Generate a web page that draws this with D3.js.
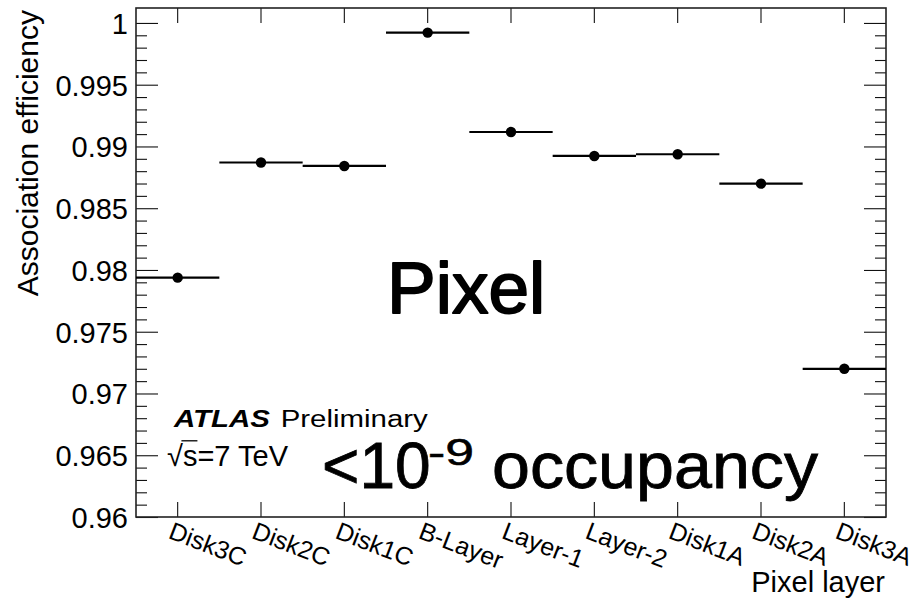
<!DOCTYPE html>
<html>
<head>
<meta charset="utf-8">
<script src="https://cdn.jsdelivr.net/npm/d3@7"></script>
<style>
  html, body { margin: 0; padding: 0; background: #fff; }
  svg { display: block; font-family: "Liberation Sans", Arial, Helvetica, sans-serif; }
</style>
</head>
<body>
<svg id="chart" width="917" height="598"></svg>
<script>
// Pixel layers along the x axis
const categories = ["Disk3C", "Disk2C", "Disk1C", "B-Layer", "Layer-1", "Layer-2", "Disk1A", "Disk2A", "Disk3A"];
// Hit-to-track association efficiency per layer
const efficiency = [0.97938, 0.98870, 0.98842, 0.99922, 0.99117, 0.98923, 0.98937, 0.98699, 0.97200];
// Major y ticks and their labels
const yMajorTicks = [0.96, 0.965, 0.97, 0.975, 0.98, 0.985, 0.99, 0.995, 1];
const yTickLabels = ["0.96", "0.965", "0.97", "0.975", "0.98", "0.985", "0.99", "0.995", "1"];

const W = 917, H = 598;
const frame = { left: 136, right: 886, top: 8, bottom: 517 };

const svg = d3.select("#chart");
svg.append("rect").attr("width", W).attr("height", H).attr("fill", "#fff");

const x = d3.scaleBand().domain(categories).range([frame.left, frame.right]).paddingInner(0).paddingOuter(0);
const y = d3.scaleLinear().domain([0.96, 1.00121]).range([frame.bottom, frame.top]);

const minorTicks = d3.range(0, 41).map(i => +(0.96 + i * 0.001).toFixed(3))
  .filter(v => !yMajorTicks.some(m => Math.abs(m - v) < 1e-9));

function styleAxis(g) {
  g.select(".domain").remove();
  g.selectAll(".tick line").attr("stroke", "#111").attr("stroke-width", 1.1);
}

// Left axis: major ticks with labels, minor ticks without
const labelOf = d => yTickLabels[yMajorTicks.findIndex(m => Math.abs(m - d) < 1e-9)];
svg.append("g").attr("transform", `translate(${frame.left},0)`)
  .call(d3.axisLeft(y).tickValues(yMajorTicks).tickFormat(labelOf).tickSizeInner(-22).tickSizeOuter(0).tickPadding(8))
  .call(styleAxis)
  .call(g => g.selectAll(".tick text").attr("fill", "#000").style("font-size", "29px")
    .style("font-family", "'Liberation Sans', Arial, sans-serif").attr("dy", "0.36em"));
svg.append("g").attr("transform", `translate(${frame.left},0)`)
  .call(d3.axisLeft(y).tickValues(minorTicks).tickFormat("").tickSizeInner(-11).tickSizeOuter(0))
  .call(styleAxis);

// Right axis mirrors the ticks
svg.append("g").attr("transform", `translate(${frame.right},0)`)
  .call(d3.axisRight(y).tickValues(yMajorTicks).tickFormat("").tickSizeInner(-22).tickSizeOuter(0))
  .call(styleAxis);
svg.append("g").attr("transform", `translate(${frame.right},0)`)
  .call(d3.axisRight(y).tickValues(minorTicks).tickFormat("").tickSizeInner(-11).tickSizeOuter(0))
  .call(styleAxis);

// Top and bottom axes: one tick per layer
svg.append("g").attr("transform", `translate(0,${frame.top})`)
  .call(d3.axisTop(x).tickFormat("").tickSizeInner(-15).tickSizeOuter(0))
  .call(styleAxis);
const xAxis = svg.append("g").attr("transform", `translate(0,${frame.bottom})`)
  .call(d3.axisBottom(x).tickSizeInner(-15).tickSizeOuter(0))
  .call(styleAxis);
xAxis.selectAll(".tick text")
  .attr("fill", "#000")
  .style("font-size", "25px")
  .style("font-family", "'Liberation Sans', Arial, sans-serif")
  .attr("text-anchor", "start")
  .attr("x", 0).attr("y", 0).attr("dy", "0.72em")
  .attr("transform", "translate(-4,4) rotate(21)");

// Frame
svg.append("rect")
  .attr("x", frame.left).attr("y", frame.top)
  .attr("width", frame.right - frame.left).attr("height", frame.bottom - frame.top)
  .attr("fill", "none").attr("stroke", "#222").attr("stroke-width", 1.6);

// Data: horizontal bin-width bars with markers
const pts = svg.append("g");
pts.selectAll("line.bin").data(categories).join("line")
  .attr("class", "bin")
  .attr("x1", d => x(d)).attr("x2", d => x(d) + x.bandwidth())
  .attr("y1", (d, i) => y(efficiency[i])).attr("y2", (d, i) => y(efficiency[i]))
  .attr("stroke", "#000").attr("stroke-width", 2.2);
pts.selectAll("circle").data(categories).join("circle")
  .attr("cx", d => x(d) + x.bandwidth() / 2)
  .attr("cy", (d, i) => y(efficiency[i]))
  .attr("r", 5.2).attr("fill", "#000");

// Axis titles
svg.append("text")
  .attr("transform", "translate(38,10) rotate(-90)")
  .attr("text-anchor", "end")
  .style("font-size", "30px")
  .text("Association efficiency");
svg.append("text")
  .attr("x", 885).attr("y", 592)
  .attr("text-anchor", "end")
  .style("font-size", "29px")
  .text("Pixel layer");

// Big annotation
svg.append("text")
  .attr("x", 387).attr("y", 313)
  .style("font-size", "73px")
  .attr("stroke", "#000").attr("stroke-width", 1.8).attr("stroke-linejoin", "round")
  .text("Pixel");

// ATLAS label
const atlas = svg.append("g").attr("transform", "translate(174,427) scale(1.28,1)");
const atlasText = atlas.append("text").style("font-size", "23px");
atlasText.append("tspan").style("font-weight", "bold").style("font-style", "italic").text("ATLAS");
atlasText.append("tspan").attr("dx", 2).text(" Preliminary");

// sqrt(s) = 7 TeV
const energy = svg.append("text").attr("x", 167).attr("y", 466).style("font-size", "29px");
energy.append("tspan").text("√");
energy.append("tspan").text("s=7 TeV");
{
  const n = energy.node();
  const rad = n.getExtentOfChar(0);
  const sChar = n.getExtentOfChar(1);
  svg.append("line")
    .attr("x1", rad.x + rad.width - 1.5).attr("x2", sChar.x + sChar.width)
    .attr("y1", 440.8).attr("y2", 440.8)
    .attr("stroke", "#000").attr("stroke-width", 1.3);
}

// Occupancy annotation
svg.append("text")
  .attr("x", 322).attr("y", 488)
  .style("font-size", "64px")
  .attr("stroke", "#000").attr("stroke-width", 0.8)
  .text("<10");
svg.append("text")
  .attr("x", 428).attr("y", 465)
  .style("font-size", "36px")
  .attr("textLength", 46).attr("lengthAdjust", "spacingAndGlyphs")
  .attr("stroke", "#000").attr("stroke-width", 0.5)
  .text("-9");
svg.append("text")
  .attr("x", 492).attr("y", 488)
  .style("font-size", "64px")
  .attr("textLength", 326).attr("lengthAdjust", "spacingAndGlyphs")
  .attr("stroke", "#000").attr("stroke-width", 0.8)
  .text("occupancy");
</script>
</body>
</html>
